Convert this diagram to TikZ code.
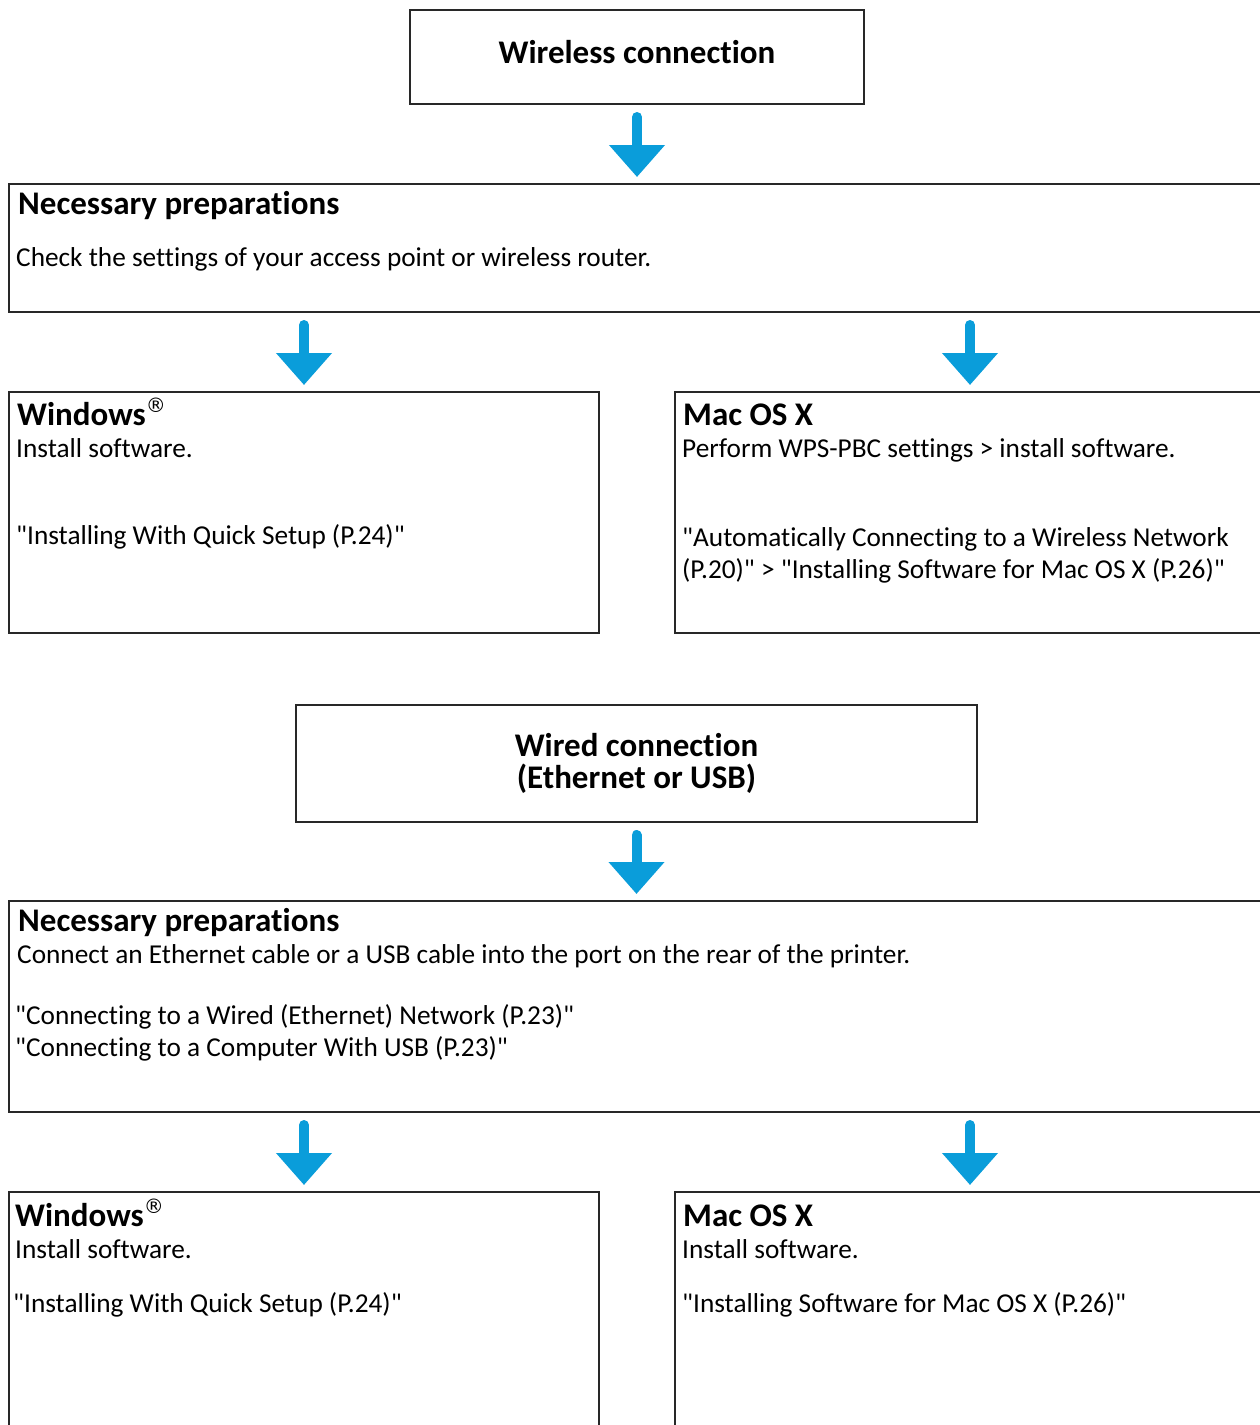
\documentclass[tikz,border=0pt]{standalone}
\usepackage{fontspec}
\setmainfont{Carlito}[Ligatures={TeXOff,NoCommon}]
\newfontfamily\regfont{DejaVu Sans}
\usetikzlibrary{arrows.meta}

\definecolor{flowblue}{RGB}{10,157,218}
\definecolor{boxline}{RGB}{40,40,40}

\newcommand{\regmark}{\raisebox{13pt}{\regfont\mdseries\fontsize{20}{20}\selectfont ®}}

\begin{document}
\begin{tikzpicture}[x=1pt, y=-1pt,
    box/.style={draw=boxline, line width=2pt, rectangle, anchor=north west, inner sep=0pt, align=center},
    headbox/.style={box, font=\bfseries\fontsize{33}{32}\selectfont},
    boxtitle/.style={anchor=base west, inner sep=0pt, font=\bfseries\fontsize{33}{32}\selectfont},
    boxtext/.style={anchor=base west, inner sep=0pt, align=left, font=\fontsize{27.3}{32}\selectfont},
    flowarrow/.style={draw=flowblue, line width=10pt, line cap=round, -{Triangle[width=54pt, length=32pt]}}
]

\clip (0,0) rectangle (1260,1425);

% --- Wireless ---
\node[headbox, text depth=10pt, minimum width=454pt, minimum height=94pt] (wireless) at (409,9) {Wireless connection};
\node[box, minimum width=1254pt, minimum height=128pt] (prep1) at (8,183) {};
\node[box, minimum width=590pt, minimum height=241pt] (win1) at (8,391) {};
\node[box, minimum width=590pt, minimum height=241pt] (mac1) at (674,391) {};

\node[boxtitle] (prep1title) at (18,214) {Necessary preparations};
\node[boxtext] (prep1text) at (16,266) {Check the settings of your access point or wireless router.};

\node[boxtitle] (win1title) at (17,425) {Windows\regmark};
\node[boxtext] (win1text) at (16,457) {Install software.};
\node[boxtext] (win1ref) at (16,544) {"Installing With Quick Setup (P.24)"};

\node[boxtitle] (mac1title) at (683,425) {Mac OS X};
\node[boxtext] (mac1text) at (682,457) {Perform WPS-PBC settings > install software.};
\node[boxtext] (mac1ref) at (682,578) {"Automatically Connecting to a Wireless Network\\(P.20)" > "Installing Software for Mac OS X (P.26)"};

% --- Wired ---
\node[headbox, minimum width=681pt, minimum height=117pt] (wired) at (295,704) {Wired connection\\(Ethernet or USB)};
\node[box, minimum width=1254pt, minimum height=211pt] (prep2) at (8,900) {};
\node[box, minimum width=590pt, minimum height=260pt] (win2) at (8,1191) {};
\node[box, minimum width=590pt, minimum height=260pt] (mac2) at (674,1191) {};

\node[boxtitle] (prep2title) at (18,931) {Necessary preparations};
\node[boxtext] (prep2text) at (17,963) {Connect an Ethernet cable or a USB cable into the port on the rear of the printer.};
\node[boxtext] (prep2ref) at (15,1056) {"Connecting to a Wired (Ethernet) Network (P.23)"\\"Connecting to a Computer With USB (P.23)"};

\node[boxtitle] (win2title) at (15,1226) {Windows\regmark};
\node[boxtext] (win2text) at (15,1258) {Install software.};
\node[boxtext] (win2ref) at (13,1312) {"Installing With Quick Setup (P.24)"};

\node[boxtitle] (mac2title) at (683,1226) {Mac OS X};
\node[boxtext] (mac2text) at (682,1258) {Install software.};
\node[boxtext] (mac2ref) at (682,1312) {"Installing Software for Mac OS X (P.26)"};

% --- Arrows ---
\draw[flowarrow] ([yshift=-12pt]wireless.south) -- ([yshift=6pt]wireless.south |- prep1.north);
\draw[flowarrow] ([yshift=-12pt]win1.north |- prep1.south) -- ([yshift=6pt]win1.north);
\draw[flowarrow] ([yshift=-12pt]mac1.north |- prep1.south) -- ([yshift=6pt]mac1.north);
\draw[flowarrow] ([yshift=-12pt]wired.south) -- ([yshift=6pt]wired.south |- prep2.north);
\draw[flowarrow] ([yshift=-12pt]win2.north |- prep2.south) -- ([yshift=6pt]win2.north);
\draw[flowarrow] ([yshift=-12pt]mac2.north |- prep2.south) -- ([yshift=6pt]mac2.north);

\end{tikzpicture}
\end{document}
